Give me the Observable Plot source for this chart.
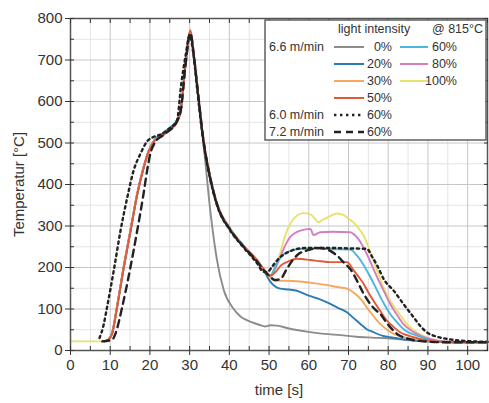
<!DOCTYPE html>
<html>
<head>
<meta charset="utf-8">
<script src="https://cdn.jsdelivr.net/npm/d3@7"></script>
<script src="https://cdn.jsdelivr.net/npm/@observablehq/plot@0.6"></script>
<style>
  html, body { margin: 0; padding: 0; background: #fff; }
  #chart { width: 489px; height: 403px; }
</style>
</head>
<body>
<div id="chart"></div>
<script>
// ---- Data: [time s, temperature °C] ----
const li0 = [[8.5,22],[9.4,25],[10.5,42],[11.7,104],[13.4,200],[15.1,289],[16.8,377],[18.4,441],[19.7,481],[21,505],[23.5,522],[25,534],[26.8,552],[27.8,580],[28.9,682],[30.2,765],[31,715],[32,625],[33.5,498],[35.2,337],[36.9,217],[38.6,145],[41.1,100],[42.8,82],[44.4,73],[47.5,62],[49,58],[50.3,61],[52,60],[55,53],[60,45],[64,40],[68,37],[72,33],[76,31],[80.5,29],[85,25],[89.7,22],[95,20],[105,20]];
const li20 = [[8.5,22],[9.4,25],[10.5,42],[11.7,104],[13.4,200],[15.1,288],[16.8,376],[18.4,440],[19.7,480],[21,505],[23.5,525],[25,537],[26.8,555],[27.8,582],[28.9,683],[30.2,764],[31,712],[32,628],[33.5,503],[35.2,414],[36.9,351],[40.3,290],[43.6,250],[47,216],[48.5,196],[50.3,166],[52.8,149],[55,147],[57,144],[59.5,134],[62,126],[64.6,116],[67.1,104],[69.6,92],[71.3,78],[73,64],[74.5,52],[76.3,44],[78.8,35],[80.5,32],[83.8,27],[86.3,24],[90,22],[95,20],[105,20]];
const li30 = [[8.5,22],[9.4,25],[10.5,43],[11.7,105],[13.4,202],[15.1,290],[16.8,378],[18.4,441],[19.7,481],[21,504],[23.5,521],[25,532],[26.8,551],[27.8,579],[28.9,681],[30.2,766],[31,716],[32,630],[33.5,506],[35.2,418],[36.9,354],[40.3,292],[43.6,252],[47,217],[48.5,197],[50.3,175],[51.5,168],[54.5,168],[57,167],[60,164],[62,161],[65,157],[67.1,153],[69.6,149],[72.1,133],[73.4,120],[74.6,104],[75.9,88],[77.2,72],[78.8,57],[80.5,45],[82.2,37],[83.8,32],[86,28],[88,26],[91,22],[96,20],[105,20]];
const li50 = [[8.5,22],[9.4,25],[10.5,41],[11.7,102],[13.4,199],[15.1,287],[16.8,376],[18.4,440],[19.7,480],[21,503],[23.5,520],[25,531],[26.8,550],[27.8,580],[28.9,685],[30.2,772],[31,720],[32,632],[33.5,507],[35.2,417],[36.9,353],[40.3,291],[43.6,251],[47,217],[48.5,198],[50.3,180],[51.9,192],[53,205],[54.5,213],[57,221],[60.4,218],[63,215],[65.4,213],[69.6,213],[71.3,193],[72.5,178],[73.8,161],[75,140],[76.3,120],[78,95],[79.7,72],[81.3,57],[83,44],[84.7,37],[86.4,32],[89,26],[92,22],[96,20],[105,20]];
const li60 = [[8.5,22],[9.4,25],[10.5,42],[11.7,103],[13.4,200],[15.1,288],[16.8,377],[18.4,441],[19.7,481],[21,506],[23.5,524],[25,536],[26.8,554],[27.8,581],[28.9,683],[30.2,766],[31,716],[32,630],[33.5,506],[35.2,419],[36.9,355],[40.3,293],[43.6,253],[47,218],[48.5,198],[50.3,180],[51.9,209],[53,226],[54.5,237],[57.9,245],[62,246],[66,244],[70.4,243],[72.1,229],[73.4,212],[74.6,193],[75.9,170],[77.2,145],[78.8,115],[80.5,88],[82.2,68],[83.8,52],[85.5,42],[87.2,36],[90,27],[93,22],[97,20],[105,20]];
const li80 = [[8.5,22],[9.4,25],[10.5,44],[11.7,106],[13.4,203],[15.1,291],[16.8,379],[18.4,442],[19.7,481],[21,504],[23.5,521],[25,532],[26.8,551],[27.8,579],[28.9,682],[30.2,767],[31,716],[32,630],[33.5,505],[35.2,416],[36.9,352],[40.3,290],[43.6,250],[47,216],[48.5,197],[50.3,180],[51.5,196],[52.8,225],[54,252],[55.3,273],[57.9,289],[60.4,293],[61.2,278],[62.9,285],[66,286],[70.4,285],[72.1,273],[73.4,255],[74.6,233],[75.9,205],[77.2,177],[78.8,145],[80.5,112],[82.2,86],[83.8,64],[85.5,50],[87.2,40],[89,32],[90.6,28],[93,23],[97,21],[105,20]];
const li100 = [[0,22],[7.5,22],[9.3,24],[10.5,43],[11.7,105],[13.4,201],[15.1,289],[16.8,377],[18.4,441],[19.7,481],[21,505],[23.5,522],[25,533],[26.8,552],[27.8,580],[28.9,683],[30.2,766],[31,715],[32,630],[33.5,505],[35.2,416],[36.9,352],[40.3,290],[43.6,250],[47,216],[48.5,197],[50.3,181],[51.5,202],[52.8,235],[54,275],[55.3,305],[57,325],[58.5,331],[60.4,328],[61.5,318],[62.5,309],[63.5,315],[65,322],[67.1,330],[68.8,326],[70,318],[71.3,308],[72.5,295],[73.8,277],[75,250],[76.3,217],[77.5,185],[78.8,153],[80.5,120],[82.2,96],[83.8,75],[85.5,56],[87.9,40],[90.6,28],[93,23],[96,21],[105,20]];
const v60_60 = [[7.3,30],[8.3,60],[9.2,104],[10.9,193],[12.6,289],[14.3,369],[15.9,434],[17.6,474],[19.3,504],[21,515],[22.6,520],[24.5,532],[26.8,554],[27.9,643],[29,712],[30,760],[31,710],[32,620],[33.5,500],[35.2,412],[36.9,350],[40.3,288],[43.6,248],[47,210],[48.5,190],[49.5,189],[51,205],[52.8,225],[54,233],[55.5,240],[57,245],[60,247],[65,247],[70,246],[74.6,245],[76,225],[77.2,205],[79,170],[81.3,145],[84,110],[86.4,80],[88,60],[89.7,44],[92,34],[94.8,28],[98,24],[101,22],[105,21]];
const v72_60 = [[8,22],[10.5,26],[11.3,40],[13,104],[15.1,201],[16.8,289],[18.4,378],[19.3,434],[20.1,474],[21.2,500],[23.5,520],[26.8,552],[27.8,580],[28.9,683],[30.2,765],[31,715],[32,630],[33.5,505],[35.2,415],[36.9,352],[40.3,290],[43.6,250],[47,214],[48.5,195],[50.3,178],[51.5,170],[52.8,172],[54.5,197],[56.2,221],[57.5,233],[59.5,241],[61,245],[62.9,247],[65.4,240],[67.1,229],[68.8,212],[70.4,197],[72.1,169],[73.8,137],[75.5,112],[76.8,98],[78,88],[79.5,68],[81.3,48],[82.5,38],[83.8,32],[86,26],[89,22],[94,20],[105,20]];

const xMajor = [0,10,20,30,40,50,60,70,80,90,100];
const xMinor = [5,15,25,35,45,55,65,75,85,95,105];
const yMajor = [0,100,200,300,400,500,600,700,800];
const yMinor = [50,150,250,350,450,550,650,750];

const solidSeries = [
  {name:"0%", data: li0, color:"#8c8c8c"},
  {name:"100%", data: li100, color:"#e8e26c"},
  {name:"80%", data: li80, color:"#d67cc0"},
  {name:"60%", data: li60, color:"#4ab6e2"},
  {name:"20%", data: li20, color:"#2b7bb4"},
  {name:"30%", data: li30, color:"#f5a85e"},
  {name:"50%", data: li50, color:"#e1583c"}
];
const DOT = "2.4,3.6", DASH = "7,5";

const FONT = "'Liberation Sans', Arial, sans-serif";
const marks = [
  Plot.gridX(xMinor, {stroke:"#e4e4e4", strokeOpacity:1}),
  Plot.gridY(yMinor, {stroke:"#e4e4e4", strokeOpacity:1}),
  Plot.gridX(xMajor, {stroke:"#c6c6c6", strokeOpacity:1}),
  Plot.gridY(yMajor, {stroke:"#c6c6c6", strokeOpacity:1}),
];
for (const s of solidSeries) {
  marks.push(Plot.line(s.data, {x: d => d[0], y: d => d[1], stroke: s.color, strokeWidth: 1.9, curve: "monotone-x"}));
}
marks.push(Plot.line(v60_60, {x: d => d[0], y: d => d[1], stroke:"#222", strokeWidth: 2.4, strokeDasharray: DOT, curve:"monotone-x"}));
marks.push(Plot.line(v72_60, {x: d => d[0], y: d => d[1], stroke:"#222", strokeWidth: 2.4, strokeDasharray: DASH, curve:"monotone-x"}));
marks.push(
  Plot.frame({stroke:"#555", strokeWidth:1.5}),
  Plot.axisX(xMajor, {anchor:"bottom", tickSize:5, tickPadding:4, fontSize:15, color:"#333", label:"time [s]", labelAnchor:"center", labelOffset:44, labelArrow:"none"}),
  Plot.axisX(xMinor.concat(xMajor), {anchor:"bottom", tickSize:-4, tickFormat: () => "", label:null}),
  Plot.axisX(xMinor.concat(xMajor), {anchor:"top", tickSize:-4, tickFormat: () => "", label:null}),
  Plot.axisY(yMajor, {anchor:"left", tickSize:5, tickPadding:3, fontSize:15, color:"#333", label:"Temperatur [°C]", labelAnchor:"center", labelOffset:57, labelArrow:"none"}),
  Plot.axisY(yMinor.concat(yMajor), {anchor:"left", tickSize:-4, tickFormat: () => "", label:null}),
  Plot.axisY(yMinor.concat(yMajor), {anchor:"right", tickSize:-4, tickFormat: () => "", label:null})
);

const chart = Plot.plot({
  width: 489, height: 403,
  marginLeft: 70, marginRight: 2, marginTop: 18, marginBottom: 53,
  x: {domain:[0,105]},
  y: {domain:[0,800]},
  style: {fontFamily: FONT, fontSize: "15px", color:"#333", background:"#fff"},
  marks
});
document.getElementById("chart").appendChild(chart);

// ---- Legend drawn in the SVG ----
const svg = d3.select(chart);
const g = svg.append("g").attr("font-family", FONT).attr("font-size", 12.5).attr("fill", "#333").attr("text-anchor", "start");
g.append("rect").attr("x", 265).attr("y", 20).attr("width", 221).attr("height", 120)
  .attr("fill", "#fff").attr("stroke", "#555").attr("stroke-width", 1.4);
g.append("text").attr("x", 338).attr("y", 33).attr("text-anchor", "start").text("light intensity");
g.append("text").attr("x", 432).attr("y", 33).attr("text-anchor", "start").text("@ 815°C");
const rowY = [47, 64, 81, 98, 115, 132];
g.append("text").attr("x", 269).attr("y", rowY[0] + 4).attr("text-anchor", "start").text("6.6 m/min");
g.append("text").attr("x", 269).attr("y", rowY[4] + 4).attr("text-anchor", "start").text("6.0 m/min");
g.append("text").attr("x", 269).attr("y", rowY[5] + 4).attr("text-anchor", "start").text("7.2 m/min");
const legendItems = [
  {label:"0%", color:"#8c8c8c", col:0, row:0},
  {label:"20%", color:"#2b7bb4", col:0, row:1},
  {label:"30%", color:"#f5a85e", col:0, row:2},
  {label:"50%", color:"#e1583c", col:0, row:3},
  {label:"60%", color:"#4ab6e2", col:1, row:0},
  {label:"80%", color:"#d67cc0", col:1, row:1},
  {label:"100%", color:"#e8e26c", col:1, row:2},
  {label:"60%", color:"#222", col:0, row:4, dash: DOT},
  {label:"60%", color:"#222", col:0, row:5, dash: DASH}
];
for (const it of legendItems) {
  const x0 = it.col === 0 ? 334 : 400;
  const x1 = it.col === 0 ? 364 : 428;
  const xt = it.col === 0 ? 392 : 457;
  const y = rowY[it.row];
  g.append("line").attr("x1", x0).attr("x2", x1).attr("y1", y).attr("y2", y)
    .attr("stroke", it.color).attr("stroke-width", it.dash ? 2.4 : 2)
    .attr("stroke-dasharray", it.dash || null);
  g.append("text").attr("x", xt).attr("y", y + 4).attr("text-anchor", "end").text(it.label);
}
</script>
</body>
</html>
